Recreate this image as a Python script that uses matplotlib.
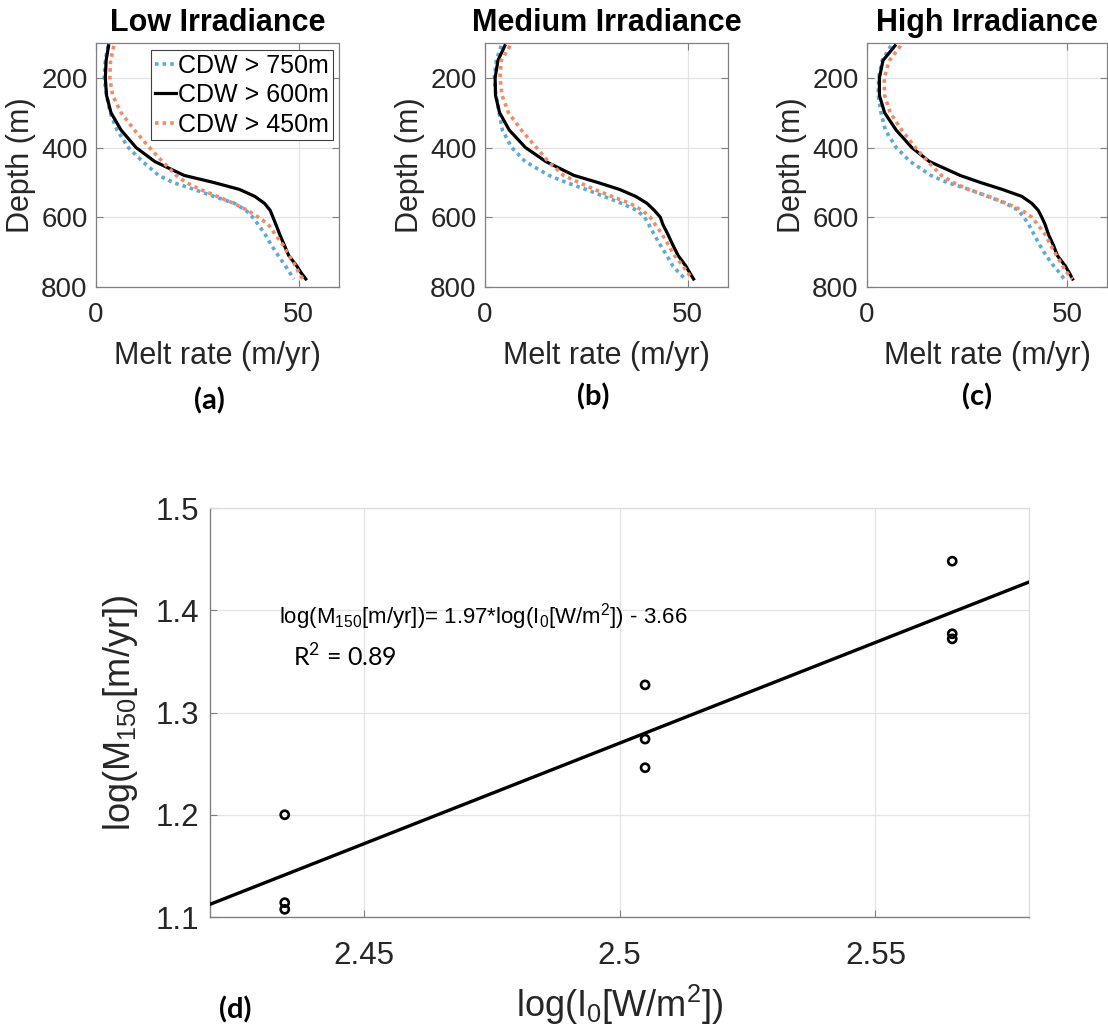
import matplotlib
matplotlib.use("Agg")
import matplotlib.pyplot as plt
from matplotlib import font_manager as fm
import numpy as np

# ---------------- data ----------------
depth = [108, 150, 200, 250, 300, 350, 400, 440, 480, 500, 520, 540, 560,
         580, 600, 620, 650, 680, 710, 740, 760, 777]

# Low irradiance
low_750 = [3.0, 2.3, 2.0, 2.6, 3.5, 5.2, 8.0, 11.5, 15.5, 19.0, 24.2, 29.1, 34.2,
           37.0, 38.7, 40.0, 41.8, 43.3, 45.0, 46.8, 47.9, 48.9]
low_600 = [3.1, 2.5, 2.3, 2.6, 3.7, 6.2, 9.9, 14.5, 21.8, 29.0, 35.4, 39.2, 41.6,
           43.0, 43.7, 44.4, 45.4, 46.5, 47.6, 49.6, 50.7, 51.8]
low_450 = [4.4, 3.6, 3.4, 4.1, 6.2, 9.5, 13.2, 16.4, 19.8, 22.2, 25.7, 30.0, 34.0,
           37.4, 40.1, 42.5, 44.3, 46.2, 47.7, 49.3, 50.1, 51.1]
# Medium irradiance
med_750 = [4.0, 2.8, 2.3, 2.7, 3.5, 4.3, 6.6, 9.9, 15.8, 20.0, 24.9, 29.4, 33.7,
           37.5, 39.4, 40.4, 41.8, 43.3, 44.9, 46.4, 48.0, 49.4]
med_600 = [4.9, 3.2, 2.5, 2.6, 3.6, 6.0, 10.0, 15.0, 22.0, 27.8, 33.2, 37.2, 40.0,
           41.8, 43.3, 43.9, 45.2, 46.4, 47.7, 49.6, 50.6, 51.5]
med_450 = [6.2, 4.0, 3.7, 4.2, 5.8, 9.0, 12.7, 15.6, 19.4, 23.2, 27.0, 31.3, 35.8,
           38.8, 40.8, 42.0, 43.8, 45.3, 46.8, 48.9, 50.1, 51.1]
# High irradiance
high_750 = [6.0, 3.8, 2.9, 2.8, 3.5, 4.6, 7.3, 10.8, 16.0, 20.0, 25.5, 30.2, 34.6,
            37.9, 39.2, 40.4, 41.8, 43.2, 44.8, 46.7, 48.2, 49.3]
high_600 = [7.0, 4.0, 3.1, 3.1, 4.4, 7.3, 11.2, 15.6, 23.3, 28.3, 33.8, 38.7, 41.2,
            42.8, 43.7, 44.5, 45.4, 46.6, 47.6, 49.6, 50.6, 51.4]
high_450 = [8.4, 5.6, 4.3, 4.4, 5.8, 8.7, 12.1, 15.2, 18.6, 21.6, 25.3, 30.4, 34.9,
            38.8, 41.2, 42.6, 44.6, 45.9, 47.4, 48.9, 50.1, 51.4]

panel_titles = ["Low Irradiance", "Medium Irradiance", "High Irradiance"]
series_labels = ["CDW > 750m", "CDW > 600m", "CDW > 450m"]
panels = [(low_750, low_600, low_450),
          (med_750, med_600, med_450),
          (high_750, high_600, high_450)]

# Regression panel
log_I0 = [2.4346, 2.4346, 2.4346, 2.505, 2.505, 2.505, 2.565, 2.565, 2.565]
log_M150 = [1.200, 1.114, 1.1075, 1.327, 1.274, 1.246, 1.448, 1.377, 1.372]
fit_slope = 1.97
fit_intercept = -3.655

# ---------------- style ----------------
W, H = 1108, 1034
plt.rcParams['font.family'] = ['Liberation Sans', 'DejaVu Sans']
plt.rcParams['mathtext.fontset'] = 'custom'
plt.rcParams['mathtext.rm'] = 'Liberation Sans'
plt.rcParams['mathtext.it'] = 'Liberation Sans:italic'
plt.rcParams['mathtext.bf'] = 'Liberation Sans:bold'

try:
    fm.findfont(fm.FontProperties(family='Liberation Sans Narrow'),
                fallback_to_default=False)
    big_family = ['Liberation Sans Narrow', 'Liberation Sans']
    big_size = 31
except Exception:
    big_family = ['Liberation Sans']
    big_size = 26

TXT = '#262626'
SPINE = '#808080'
GRID = '#e3e3e3'
BLUE = '#5BAAD8'
ORANGE = '#F28A68'

fig = plt.figure(figsize=(W / 100, H / 100), dpi=100)


def px_rect(l, t, r, b):
    return [l / W, 1 - b / H, (r - l) / W, (b - t) / H]


top_rects = [(96, 43, 339, 287), (485, 43, 728, 287), (867, 43, 1107, 287)]
for i, (rect, (s750, s600, s450)) in enumerate(zip(top_rects, panels)):
    ax = fig.add_axes(px_rect(*rect))
    ax.plot(s750, depth, color=BLUE, lw=2.6, ls=(0, (1, 1.1)),
            label=series_labels[0], zorder=3)
    ax.plot(s600, depth, color='black', lw=2.3, ls='-',
            label=series_labels[1], zorder=4, solid_joinstyle='round')
    ax.plot(s450, depth, color=ORANGE, lw=2.6, ls=(0, (1, 1.1)),
            label=series_labels[2], zorder=5)
    ax.set_xlim(0, 60)
    ax.set_ylim(800, 100)
    ax.set_xticks([0, 50])
    ax.set_yticks([200, 400, 600, 800])
    ax.grid(True, color=GRID, lw=0.9)
    ax.set_axisbelow(True)
    for sp in ax.spines.values():
        sp.set_color(SPINE)
        sp.set_linewidth(0.9)
    ax.tick_params(direction='in', length=5, width=0.8, colors=SPINE,
                   labelcolor=TXT, labelsize=20, top=True, right=True)
    ax.tick_params(axis='x', pad=11)
    ax.tick_params(axis='y', pad=6)
    ax.set_xlabel("Melt rate (m/yr)", fontsize=22, color=TXT, labelpad=9)
    ax.set_ylabel("Depth (m)", fontsize=22, color=TXT, labelpad=4)
    ax.set_title(panel_titles[i], fontsize=22, fontweight='bold',
                 color='black', pad=9)
    if i == 0:
        leg = ax.legend(loc='upper right', bbox_to_anchor=(0.975, 0.972),
                        fontsize=18, handlelength=0.85, handletextpad=0.1,
                        labelspacing=0.22, borderpad=0.15, borderaxespad=0,
                        fancybox=False, framealpha=1, edgecolor='#404040')
        leg.get_frame().set_linewidth(0.8)
        for t in leg.get_texts():
            t.set_color('black')

# bottom regression panel
axd = fig.add_axes(px_rect(210, 508, 1029, 917))
axd.scatter(log_I0, log_M150, s=34, facecolors='none', edgecolors='black',
            linewidths=1.9, zorder=4)
xl = np.array([2.42, 2.58])
axd.plot(xl, fit_slope * xl + fit_intercept, color='black', lw=2.4, zorder=3)
axd.set_xlim(2.42, 2.58)
axd.set_ylim(1.1, 1.5)
axd.set_xticks([2.45, 2.5, 2.55])
axd.set_xticklabels(["2.45", "2.5", "2.55"])
axd.set_yticks([1.1, 1.2, 1.3, 1.4, 1.5])
axd.set_yticklabels(["1.1", "1.2", "1.3", "1.4", "1.5"])
axd.grid(True, color=GRID, lw=0.9)
axd.set_axisbelow(True)
for k in ('left', 'bottom'):
    axd.spines[k].set_color(SPINE)
    axd.spines[k].set_linewidth(1.0)
for k in ('top', 'right'):
    axd.spines[k].set_color('#dcdcdc')
    axd.spines[k].set_linewidth(0.9)
axd.tick_params(direction='in', length=5, width=0.8, colors=SPINE,
                labelcolor=TXT, labelsize=22.5)
axd.tick_params(axis='x', pad=17)
axd.tick_params(axis='y', pad=8)
axd.set_xlabel(r"log(I$_{\mathdefault{0}}$[W/m$^{\mathdefault{2}}$])",
               family=big_family, fontsize=big_size, color=TXT, labelpad=9)
axd.set_ylabel(r"log(M$_{\mathdefault{150}}$[m/yr])",
               family=big_family, fontsize=big_size, color=TXT, labelpad=11)

axd.text(2.4335, 1.3875,
         r"log(M$_{\mathdefault{150}}$[m/yr])= 1.97*log(I$_{\mathdefault{0}}$[W/m$^{\mathdefault{2}}$]) - 3.66",
         fontsize=16, color='black', va='baseline', ha='left')
axd.text(2.4362, 1.3445, r"R$^{\mathdefault{2}}$ = 0.89", family=['Lato'],
         fontsize=18, color='black', va='baseline', ha='left')

# panel letters
for lab, (x, y) in zip(["(a)", "(b)", "(c)", "(d)"],
                       [(209, 401), (593, 397), (977, 397), (235, 1010)]):
    fig.text(x / W, 1 - y / H, lab, family=['Lato'], fontweight='bold',
             fontsize=21, ha='center', va='center', color='black')

fig.savefig("out.png", dpi=100)
